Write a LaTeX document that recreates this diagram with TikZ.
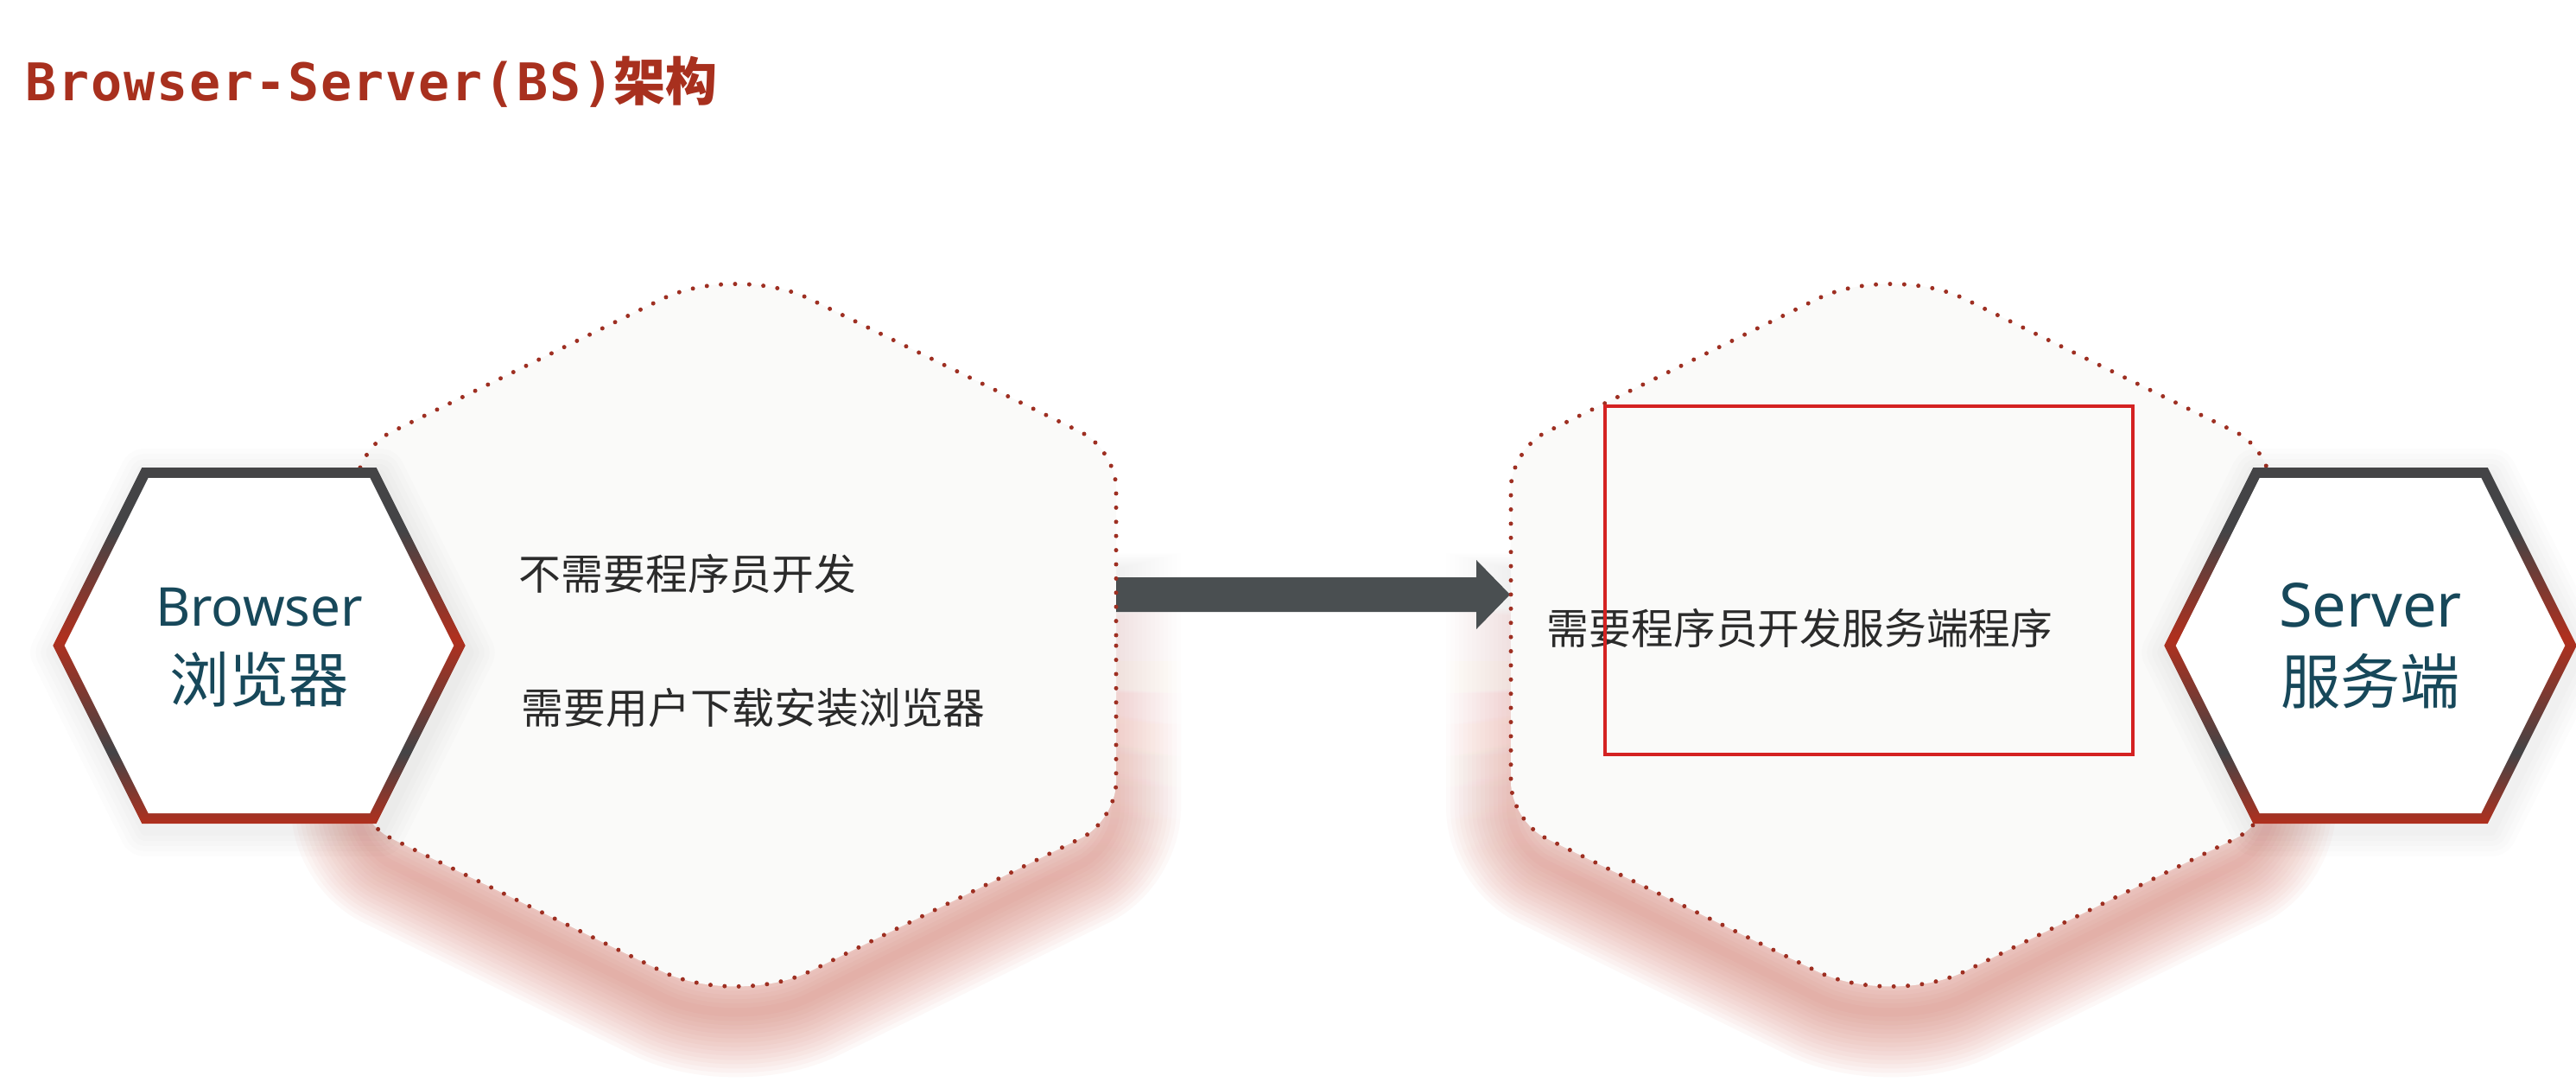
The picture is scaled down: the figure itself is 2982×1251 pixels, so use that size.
\documentclass[tikz,border=0pt]{standalone}
\usepackage{fontspec}
\setmainfont{Noto Sans}
\newfontfamily\cjk{Noto Sans CJK SC}
\newfontfamily\titlemono[LetterSpace=3]{DejaVu Sans Mono}
\usetikzlibrary{calc,fadings}
\definecolor{titlered}{HTML}{A8301E}
\definecolor{hexdark}{HTML}{444446}
\definecolor{hexred}{HTML}{B0301E}
\definecolor{tealtext}{HTML}{17485A}
\definecolor{bodytext}{HTML}{2B2B2B}
\definecolor{dotred}{HTML}{9E2F22}
\definecolor{arrowgray}{HTML}{4A4F51}
\definecolor{boxred}{HTML}{D42222}
\definecolor{bubblefill}{HTML}{FAFAF9}
\definecolor{glowred}{HTML}{CC5A4A}
\pgfdeclareverticalshading{hexshade}{100bp}{color(0bp)=(hexred); color(25bp)=(hexred); color(35bp)=(hexdark); color(51bp)=(hexred); color(66bp)=(hexdark); color(100bp)=(hexdark)}
\begin{tikzfadingfrompicture}[name=glowfade]
  \fill[transparent!100] (-50bp,-50bp) rectangle (50bp,50bp);
  \fill[transparent!0] (-50bp,-50bp) rectangle (50bp,-14bp);
  \shade[top color=transparent!75, bottom color=transparent!0] (-50bp,-14bp) rectangle (50bp,0bp);
  \shade[top color=transparent!100, bottom color=transparent!75] (-50bp,0bp) rectangle (50bp,8bp);
\end{tikzfadingfrompicture}
\tikzset{
  bubble/.style 2 args={insert path={
    ({#1+440},{#2}) -- ({#1+440},{#2-170})
    .. controls ({#1+440},{#2-194.9}) and ({#1+421.9},{#2-223.9}) .. ({#1+399.6},{#2-234.8})
    -- ({#1+85.3},{#2-389.1})
    .. controls ({#1+38.2},{#2-412.2}) and ({#1-38.2},{#2-412.2}) .. ({#1-85.3},{#2-389.1})
    -- ({#1-399.6},{#2-234.8})
    .. controls ({#1-421.9},{#2-223.9}) and ({#1-440},{#2-194.9}) .. ({#1-440},{#2-170})
    -- ({#1-440},{#2+170})
    .. controls ({#1-440},{#2+194.9}) and ({#1-421.9},{#2+223.9}) .. ({#1-399.6},{#2+234.8})
    -- ({#1-85.3},{#2+389.1})
    .. controls ({#1-38.2},{#2+412.2}) and ({#1+38.2},{#2+412.2}) .. ({#1+85.3},{#2+389.1})
    -- ({#1+399.6},{#2+234.8})
    .. controls ({#1+421.9},{#2+223.9}) and ({#1+440},{#2+194.9}) .. ({#1+440},{#2+170})
    -- cycle}},
  hexouter/.style 2 args={insert path={({#1-238.7},{#2}) -- ({#1-135.7},{#2-206}) -- ({#1+135.7},{#2-206}) -- ({#1+238.7},{#2}) -- ({#1+135.7},{#2+206}) -- ({#1-135.7},{#2+206}) -- cycle}},
  hexinner/.style 2 args={insert path={({#1-225.3},{#2}) -- ({#1-128.3},{#2-194}) -- ({#1+128.3},{#2-194}) -- ({#1+225.3},{#2}) -- ({#1+128.3},{#2+194}) -- ({#1-128.3},{#2+194}) -- cycle}},
  dotline/.style={draw=dotred, line width=1.25pt, line cap=round, dash pattern=on 0pt off 4.1pt},
  glow/.style={draw=glowred, draw opacity=0.04, line join=round, path fading=glowfade},
  hexglow/.style={draw=black, draw opacity=0.012, line join=round},
  bodylabel/.style={anchor=base west, inner sep=0pt, text=bodytext, font=\cjk\fontsize{12.2pt}{14pt}\selectfont},
  hexen/.style={anchor=base, inner sep=0pt, text=tealtext},
  hexzh/.style={anchor=base, inner sep=0pt, text=tealtext, font=\cjk\fontsize{17.3pt}{20pt}\selectfont},
}
\begin{document}
\begin{tikzpicture}[x=0.25pt, y=-0.25pt]
\useasboundingbox (0,0) rectangle (2982,1251);
\fill[white] (0,0) rectangle (2982,1251);

% soft red glow under the bubbles
\foreach \w in {2.5,5,...,37.5}{
  \draw[glow, line width=\w pt, shift={(0,30)}, bubble={852}{735}];
  \draw[glow, line width=\w pt, shift={(0,30)}, bubble={2189}{735}];
}
% bubbles
\fill[bubblefill, bubble={852}{735}];
\fill[bubblefill, bubble={2189}{735}];

% arrow between the bubbles
\coordinate (b1e) at (1292,688);
\coordinate (b2w) at (1748,688);
\fill[arrowgray] ($(b1e)+(0,-20)$) -- ($(b2w)+(-39,-20)$) -- ($(b2w)+(-39,-40)$) -- (b2w)
  -- ($(b2w)+(-39,40)$) -- ($(b2w)+(-39,20)$) -- ($(b1e)+(0,20)$) -- cycle;

% dotted outlines
\draw[dotline, bubble={852}{735}];
\draw[dotline, bubble={2189}{735}];

% bubble texts
\node[bodylabel] (t1) at (600,682) {不需要程序员开发};
\node[bodylabel] (t2) at (603,837) {需要用户下载安装浏览器};
\node[bodylabel] (t3) at (1790,745) {需要程序员开发服务端程序};

% red highlight box
\draw[boxred, line width=1pt] (1858,470) rectangle (2469,873);

% hexagons
\foreach \cx in {300,2744}{
  \foreach \w in {3,6,...,15}{
    \draw[hexglow, line width=\w pt, shift={(4,8)}, hexouter={\cx}{747}];
  }
  \shade[shading=hexshade, hexouter={\cx}{747}];
  \fill[white, hexinner={\cx}{747}];
}
\node[hexen, font=\fontsize{15.5pt}{18pt}\selectfont] (browser) at (300,724) {Browser};
\node[hexzh] (browserzh) at (300,812) {浏览器};
\node[hexen, font=\fontsize{17.6pt}{20pt}\selectfont] (server) at (2744,725) {Server};
\node[hexzh] (serverzh) at (2744,814) {服务端};

% title
\node[anchor=base west, inner sep=0pt, text=titlered] (title) at (29,117)
  {\titlemono\bfseries\fontsize{15pt}{17pt}\selectfont Browser-Server(BS)\cjk\bfseries\fontsize{15pt}{17pt}\selectfont 架构};
\end{tikzpicture}
\end{document}
